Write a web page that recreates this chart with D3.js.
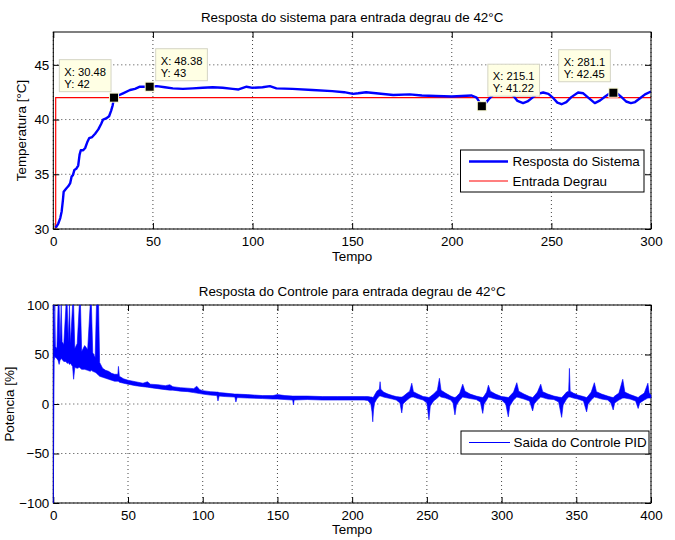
<!DOCTYPE html>
<html><head><meta charset="utf-8">
<script src="https://cdn.jsdelivr.net/npm/d3@7"></script>
<style>
body{margin:0;background:#fff}
svg{display:block}
text{font-family:"Liberation Sans",Arial,Helvetica,sans-serif;fill:#000}
</style>
</head><body>
<svg id="chart" width="675" height="540"></svg>
<script>
// ---------- DATA ----------
const topTitle = "Resposta do sistema para entrada degrau de 42°C";
const bottomTitle = "Resposta do Controle para entrada degrau de 42°C";
const xLabel = "Tempo";
const topYLabel = "Temperatura [°C]";
const bottomYLabel = "Potencia [%]";

const topXTicks = [0, 50, 100, 150, 200, 250, 300];
const topYTicks = [30, 35, 40, 45];
const bottomXTicks = [0, 50, 100, 150, 200, 250, 300, 350, 400];
const bottomYTicks = [-100, -50, 0, 50, 100];

const tempTime = [1.0,1.5,2.5,3.5,4.2,4.8,5.2,6.5,7.5,8.5,9.2,9.8,10.6,11.5,12.5,13.2,13.8,15.0,16.0,17.2,18.0,19.5,21.0,22.6,24.0,25.0,26.5,28.0,29.0,29.8,30.48,32,35,38.5,41,43.5,46,48.38,52,56,60,65,70,75,80,85,90,93,97,100,105,108.7,112,120,130,140,146,150.4,153,157,162,170.6,178.9,185,192,200,205,210,212.5,215.1,217,219.1,221,224,227,230.8,233,235.8,238,240.5,243,245.9,248.5,251,253,255.1,257.5,260,263.4,266,268.5,271.8,274.5,277,279,281.1,283,285.5,287.5,289.9,292,294.5,297,300];
const tempValue = [30.15,30.2,30.5,31.0,31.6,32.6,33.4,33.7,33.9,34.2,34.8,34.9,35.4,35.5,35.8,36.8,37.2,37.2,37.4,38.0,38.3,38.4,38.7,39.1,39.6,40.0,40.1,40.3,40.8,41.3,42.0,42.15,42.4,42.7,42.8,43.0,43.0,43.0,43.05,42.95,42.85,42.8,42.85,42.9,42.95,42.9,42.8,42.75,43.0,42.9,42.95,43.05,42.85,42.8,42.7,42.6,42.5,42.35,42.4,42.5,42.4,42.25,42.3,42.2,42.15,42.1,42.15,42.2,42.0,41.22,41.5,41.96,42.3,42.5,42.45,42.2,41.7,41.5,41.65,42.0,42.35,42.47,42.35,41.95,41.55,41.4,41.6,42.05,42.47,42.4,42.0,41.5,41.75,42.1,42.35,42.45,42.4,42.0,41.65,41.5,41.6,41.95,42.3,42.56];

const stepTime = [1.2, 1.2, 300];
const stepValue = [30, 42, 42];

const tipX = [30.48, 48.38, 215.1, 281.1];
const tipY = [42, 43, 41.22, 42.45];
const tipTextX = ["X: 30.48", "X: 48.38", "X: 215.1", "X: 281.1"];
const tipTextY = ["Y: 42", "Y: 43", "Y: 41.22", "Y: 42.45"];

const pidTime = [0,0.6,1.0,1.4,2.4,3.2,3.9,4.5,5.3,5.9,7.0,8.5,9.3,10.0,10.8,11.5,12.9,13.6,14.4,16.0,17.4,18.2,19.0,21.0,23.0,24.7,25.5,26.4,28.0,28.9,30.3,31.0,33.0,35.0,37.0,39.0,41.0,43.2,43.6,44.2,
47,50,55,60,63,65,70,75,78,80,85,90,94,96,98,100,105,109.5,110.2,111,115,121.5,122.2,123,130,140,147,150,155,160.2,160.7,161.2,170,180,190,200,208,
210.5,212.5,213.3,213.8,214.3,215,216.5,218.2,218.7,219.2,221,224,227,229.5,
232,233.2,234,236,238.5,239.9,241,244,247.5,
250,251.4,252.3,254.5,257,258.4,259.5,262.5,266,
267.5,268.8,269.8,272,274,275.5,279,283,285.8,
287.4,288.3,290,291.2,292.5,296,300,
302.8,304.5,305.5,308,310.2,311.5,315,318.7,
320.8,321.8,324,326.2,327.5,331,335,338.2,
340.2,341.2,343.5,344.9,345.4,345.9,348,351,354.8,
356.9,357.9,360,362.1,363.5,367,371,
373.2,374.7,375.7,378.5,381.1,382.5,386,389.7,
391.4,392.5,395.5,397.9,398.8,400];
const pidLow = [-100,44,48,47,46,44,40,44,46,45,43,43,41,42,40,41,38,25,37,36,37,36,35,35,34,33,34,33,32,31,29,28,27,26,25,24,23,23,23,22,
21,20,18.5,17.5,17,16.5,15.5,14.5,14,14,13,12.5,11.5,11,10.5,10,9,8.5,3,8,7.5,7,2,6.5,6,5.5,5,5,4.5,4,-1,4,4.5,4,4,4,4,
3.5,0,-8,-18,-6,1,5,8,8,8,7,6,5,4,
1,-9,0,3,6,7,7,5.5,4,
1,-16,-2,3,6,8,7,6,4,
1,-11,-1,4,7,6.5,5.5,4.5,2,
-9.5,0,4,7,6.5,5,4,
0,-13,-2,4,7,6.5,5,3,
-7,0,4,7,6.5,5,4.5,2,
-13.5,-1,5,7,7,7,6,5,3,
-8,0,4,7,6.5,5,4,
1,-6,1,4,6,6,5,3,
-4.5,1,4,6,6,6];
const pidHigh = [100,58,100,58,56,100,100,62,100,63,60,100,100,63,100,61,100,100,56,61,100,100,53,59,55,100,100,52,47,100,100,42,36,34,33,31,30,30,38,28,
25.5,24,22.5,21,22.5,20,19.5,18.5,19.5,17.5,16.5,16,15.5,18,14.5,13.5,12.5,12,12,11.5,11,10,10,10,9.5,8.5,8.5,9.5,8.5,8,8,8,8,7.5,7.5,7.5,7.5,
7.5,7,7,6.5,7,9,13,15,22.5,15,12,10,8.5,7.5,
7,7,7.5,10,13,21,12.5,10,7.5,
7,6.5,7.5,10,14,26,14,11,8,
7,6.5,7.5,11,20,13,10,8,7,
6.5,8,12,19,13,10,7.5,
7,6.5,8,12,21.5,13,10,7.5,
6.5,8,12,20,12.5,10,8,7,
6.5,8,12,13,36,13,11,9,7.5,
6.5,8,12,21.5,12.5,10,8,
7,6.5,8,11,25,12,9.5,7.5,
6.5,8,11,21,11,9];

// ---------- LAYOUT ----------
const svg = d3.select("#chart");
const L = 53.3, R = 651;
const P1 = {top: 32, bottom: 229};
const P2 = {top: 305, bottom: 503};
const FS = 13.4;

function drawFrame(g, x, y, xt, yt, top, bottom) {
  const grid = g.append("g");
  xt.forEach(v => grid.append("line").attr("x1", x(v)).attr("x2", x(v)).attr("y1", top).attr("y2", bottom)
    .attr("stroke", "#444").attr("stroke-width", 1).attr("stroke-dasharray", "1,3"));
  yt.forEach(v => grid.append("line").attr("x1", L).attr("x2", R).attr("y1", y(v)).attr("y2", y(v))
    .attr("stroke", "#444").attr("stroke-width", 1).attr("stroke-dasharray", "1,3"));
}
function drawAxes(g, x, y, xt, yt, top, bottom) {
  const ax = g.append("g").attr("transform", `translate(0,${bottom})`)
    .call(d3.axisBottom(x).tickValues(xt).tickSizeInner(-6).tickSizeOuter(0).tickPadding(7));
  const ay = g.append("g").attr("transform", `translate(${L},0)`)
    .call(d3.axisLeft(y).tickValues(yt).tickSizeInner(-6).tickSizeOuter(0).tickPadding(4));
  const at = g.append("g").attr("transform", `translate(0,${top})`)
    .call(d3.axisTop(x).tickValues(xt).tickSizeInner(-6).tickSizeOuter(0).tickFormat(""));
  const ar = g.append("g").attr("transform", `translate(${R},0)`)
    .call(d3.axisRight(y).tickValues(yt).tickSizeInner(-6).tickSizeOuter(0).tickFormat(""));
  [ax, ay, at, ar].forEach(a => {
    a.select(".domain").remove();
    a.selectAll("text").attr("font-size", FS).attr("font-family", '"Liberation Sans",Arial,sans-serif').attr("fill", "#000");
    a.selectAll("line").attr("stroke", "#000");
  });
  g.append("rect").attr("x", L).attr("y", top).attr("width", R - L).attr("height", bottom - top)
    .attr("fill", "none").attr("stroke", "#000").attr("stroke-width", 1);
}

// ---------- TOP CHART ----------
const x1 = d3.scaleLinear().domain([0, 300]).range([L, R]);
const y1 = d3.scaleLinear().domain([30, 48]).range([P1.bottom, P1.top]);
const g1 = svg.append("g");
svg.append("clipPath").attr("id", "clip1").append("rect")
  .attr("x", L).attr("y", P1.top).attr("width", R - L).attr("height", P1.bottom - P1.top);
drawFrame(g1, x1, y1, topXTicks, topYTicks, P1.top, P1.bottom);

const stepPts = stepTime.map((t, i) => [t, stepValue[i]]);
const tempPts = tempTime.map((t, i) => [t, tempValue[i]]);
const line1 = d3.line().x(d => x1(d[0])).y(d => y1(d[1]));
g1.append("path").datum(stepPts).attr("d", line1).attr("fill", "none").attr("stroke", "#ff0000")
  .attr("stroke-width", 1.2).attr("clip-path", "url(#clip1)");
g1.append("path").datum(tempPts).attr("d", line1).attr("fill", "none").attr("stroke", "#0000ff")
  .attr("stroke-width", 2.4).attr("stroke-linejoin", "round").attr("clip-path", "url(#clip1)");
drawAxes(g1, x1, y1, topXTicks, topYTicks, P1.top, P1.bottom);

// data tips
const tipSide = [-1, 1, 1, -1];
const tipLift = [6, 6, 10, 11];
tipX.forEach((tx, i) => {
  const mx = x1(tx), my = y1(tipY[i]);
  const tg = g1.append("g");
  const t1 = tg.append("text").attr("font-size", 11.2).text(tipTextX[i]);
  const t2 = tg.append("text").attr("font-size", 11.2).text(tipTextY[i]);
  const w = Math.max(t1.node().getComputedTextLength(), t2.node().getComputedTextLength()) + 10;
  const h = 32;
  const bx = tipSide[i] < 0 ? mx - 3 - w : mx + 6;
  const by = my - tipLift[i] - h;
  tg.insert("rect", "text").attr("x", bx).attr("y", by).attr("width", w).attr("height", h)
    .attr("fill", "#ffffe4").attr("stroke", "#d4d4c4").attr("stroke-width", 1);
  t1.attr("x", bx + 5).attr("y", by + 16);
  t2.attr("x", bx + 5).attr("y", by + 28);
  g1.append("rect").attr("x", mx - 5).attr("y", my - 5).attr("width", 10).attr("height", 10).attr("fill", "#f4f4d0");
  g1.append("rect").attr("x", mx - 4).attr("y", my - 4).attr("width", 8).attr("height", 8).attr("fill", "#000");
});

// title, labels
svg.append("text").attr("x", (L + R) / 2).attr("y", 21.5).attr("text-anchor", "middle").attr("font-size", FS).text(topTitle);
svg.append("text").attr("x", (L + R) / 2).attr("y", 260.5).attr("text-anchor", "middle").attr("font-size", FS).text(xLabel);
svg.append("text").attr("transform", `translate(26,${(P1.top + P1.bottom) / 2}) rotate(-90)`)
  .attr("text-anchor", "middle").attr("font-size", FS).text(topYLabel);

// legend top
const lg1 = svg.append("g");
lg1.append("rect").attr("x", 460.5).attr("y", 150).attr("width", 183.5).attr("height", 42)
  .attr("fill", "#fff").attr("stroke", "#000").attr("stroke-width", 1);
lg1.append("line").attr("x1", 469).attr("x2", 508).attr("y1", 161.5).attr("y2", 161.5).attr("stroke", "#0000ff").attr("stroke-width", 2.4);
lg1.append("line").attr("x1", 469).attr("x2", 508).attr("y1", 181).attr("y2", 181).attr("stroke", "#ff0000").attr("stroke-width", 1.2);
lg1.append("text").attr("x", 512.5).attr("y", 161.5).attr("dy", "0.35em").attr("font-size", FS).text("Resposta do Sistema");
lg1.append("text").attr("x", 512.5).attr("y", 181).attr("dy", "0.35em").attr("font-size", FS).text("Entrada Degrau");

// ---------- BOTTOM CHART ----------
const x2 = d3.scaleLinear().domain([0, 400]).range([L, R]);
const y2 = d3.scaleLinear().domain([-100, 100]).range([P2.bottom, P2.top]);
const g2 = svg.append("g");
svg.append("clipPath").attr("id", "clip2").append("rect")
  .attr("x", L - 1).attr("y", P2.top - 1).attr("width", R - L + 2).attr("height", P2.bottom - P2.top + 2);
drawFrame(g2, x2, y2, bottomXTicks, bottomYTicks, P2.top, P2.bottom);
drawAxes(g2, x2, y2, bottomXTicks, bottomYTicks, P2.top, P2.bottom);
const pidPts = pidTime.map((t, i) => ({t, lo: pidLow[i], hi: pidHigh[i]}));
const area2 = d3.area().x(d => x2(d.t)).y0(d => y2(d.lo)).y1(d => y2(d.hi));
g2.append("path").datum(pidPts).attr("d", area2).attr("fill", "#0000ff")
  .attr("stroke", "#0000ff").attr("stroke-width", 0.6).attr("stroke-linejoin", "round").attr("clip-path", "url(#clip2)");

svg.append("text").attr("x", (L + R) / 2).attr("y", 296).attr("text-anchor", "middle").attr("font-size", FS).text(bottomTitle);
svg.append("text").attr("x", (L + R) / 2).attr("y", 534).attr("text-anchor", "middle").attr("font-size", FS).text(xLabel);
svg.append("text").attr("transform", `translate(14,${(P2.top + P2.bottom) / 2}) rotate(-90)`)
  .attr("text-anchor", "middle").attr("font-size", FS).text(bottomYLabel);

const lg2 = svg.append("g");
lg2.append("rect").attr("x", 461).attr("y", 431).attr("width", 188).attr("height", 23)
  .attr("fill", "#fff").attr("stroke", "#000").attr("stroke-width", 1);
lg2.append("line").attr("x1", 469).attr("x2", 510).attr("y1", 442.5).attr("y2", 442.5).attr("stroke", "#0000ff").attr("stroke-width", 1);
lg2.append("text").attr("x", 513.5).attr("y", 442.5).attr("dy", "0.35em").attr("font-size", FS).text("Saida do Controle PID");
</script>
</body></html>
